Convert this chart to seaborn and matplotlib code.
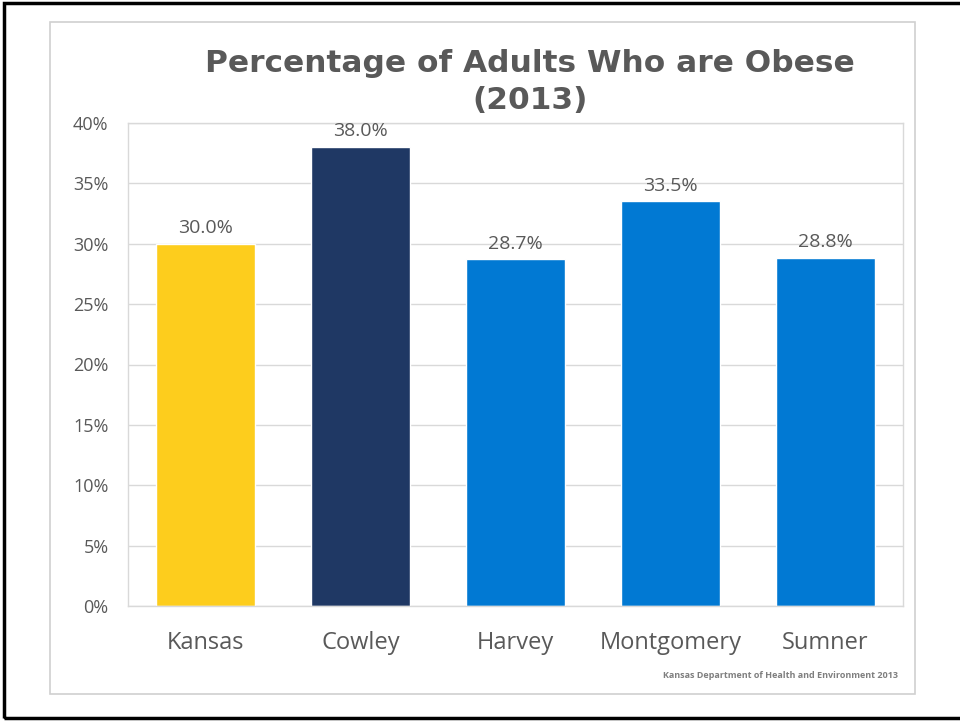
import pandas as pd
import matplotlib.pyplot as plt
import seaborn as sns
from matplotlib.patches import Rectangle
from matplotlib.ticker import PercentFormatter

# DATA
counties = ["Kansas", "Cowley", "Harvey", "Montgomery", "Sumner"]
obese_pct = [30.0, 38.0, 28.7, 33.5, 28.8]
bar_colors = ["#FDCD1D", "#1F3864", "#0179D3", "#0179D3", "#0179D3"]

df = pd.DataFrame({"county": counties, "pct": obese_pct})

# CONFIG
sns.set_theme(style="whitegrid")
plt.rcParams["font.family"] = ["Open Sans", "DejaVu Sans"]
text_gray = "#595959"

fig = plt.figure(figsize=(9.6, 7.21), dpi=100)

# slide frame + chart frame
fig.patches.append(Rectangle((4 / 960, 3 / 721), 960 / 960, 715 / 721, transform=fig.transFigure,
                             fill=False, edgecolor="black", linewidth=2.5))
fig.patches.append(Rectangle((50 / 960, 1 - 694 / 721), 865 / 960, 672 / 721, transform=fig.transFigure,
                             fill=False, edgecolor="#D0D0D0", linewidth=1.2))

ax = fig.add_axes([128 / 960, 1 - 606 / 721, 775 / 960, 483 / 721])
sns.barplot(data=df, x="county", y="pct", hue="county", palette=bar_colors,
            width=0.64, legend=False, saturation=1, ax=ax)

ax.set_ylim(0, 40)
ax.set_yticks(range(0, 41, 5))
ax.yaxis.set_major_formatter(PercentFormatter(decimals=0))
ax.grid(axis="y", color="#D9D9D9", linewidth=1)
ax.grid(axis="x", visible=False)
for s in ax.spines.values():
    s.set_color("#D9D9D9")
    s.set_linewidth(1)
ax.set_xlabel("")
ax.set_ylabel("")
ax.tick_params(axis="y", labelsize=13, colors=text_gray, pad=14, length=0)
ax.tick_params(axis="x", labelsize=17, colors=text_gray, pad=18, length=0)
ax.set_axisbelow(True)

# value labels
for c in ax.containers:
    ax.bar_label(c, fmt="%.1f%%", padding=5, fontsize=14, color=text_gray)

fig.text(530 / 960, 1 - 82 / 721, "Percentage of Adults Who are Obese\n(2013)",
         ha="center", va="center", fontsize=22.5, fontweight="bold", color=text_gray,
         family=["DejaVu Sans"], linespacing=1.33)

fig.text(898 / 960, 1 - 675 / 721, "Kansas Department of Health and Environment 2013",
         ha="right", va="center", fontsize=6.5, fontweight="bold", color="#7F7F7F")

fig.savefig("out.png", dpi=100)
